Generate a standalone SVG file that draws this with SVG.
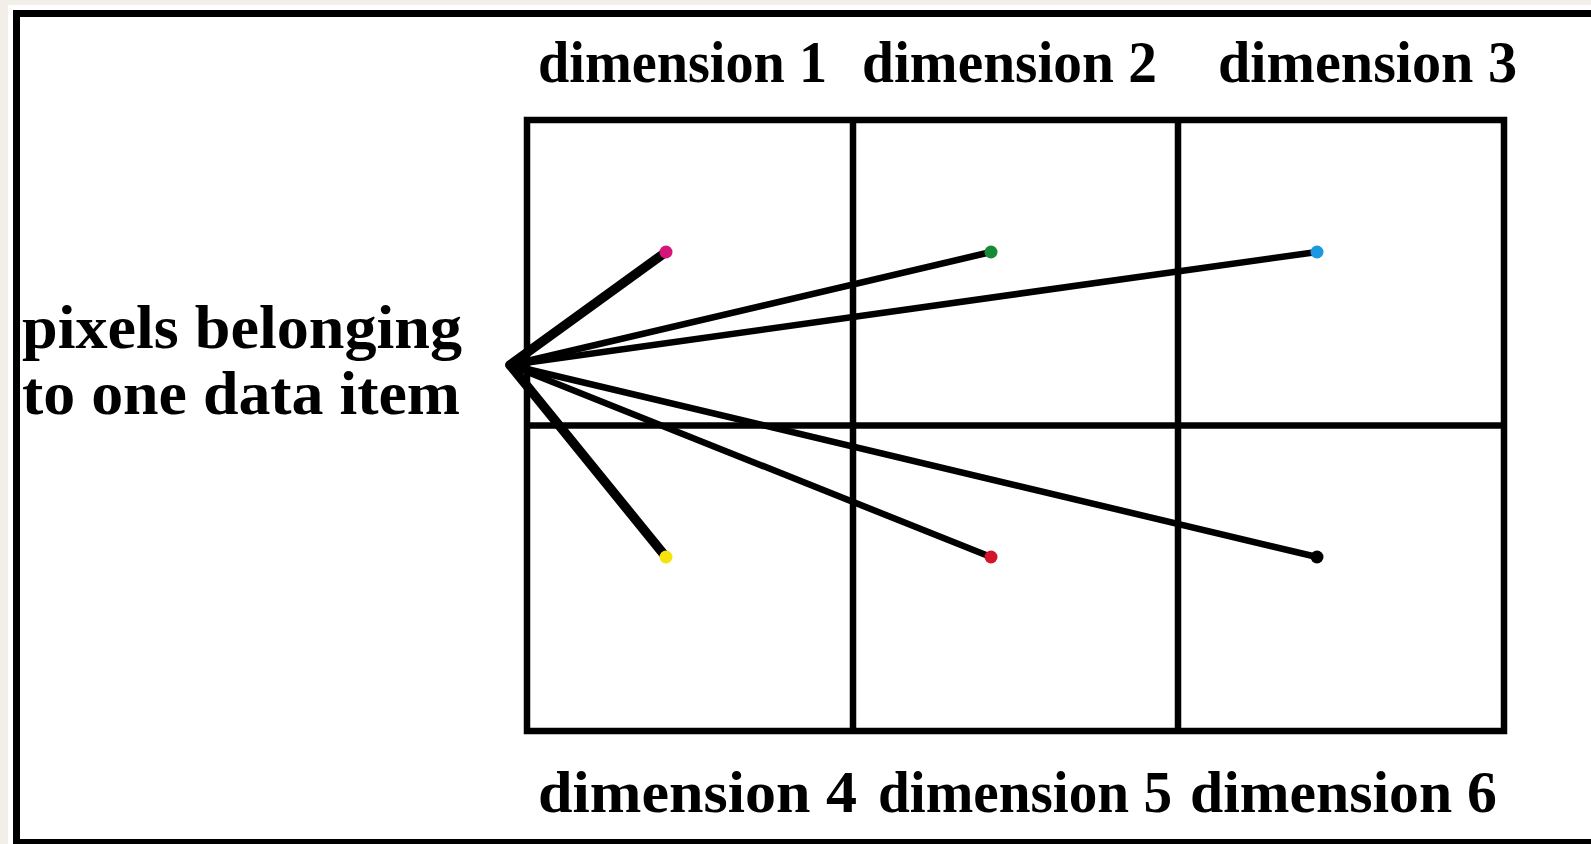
<svg xmlns="http://www.w3.org/2000/svg" width="1591" height="844" viewBox="0 0 1591 844">
<style>
.t{font-family:"Liberation Serif","Times New Roman",serif;font-weight:bold;fill:#000;}
.g{fill:none;stroke:#000;stroke-width:6.5;}
.c{stroke:#000;stroke-width:6.5;stroke-linecap:round;fill:none;}
.ct{stroke:#000;stroke-width:9.5;stroke-linecap:round;fill:none;}
</style>
<rect x="0" y="0" width="1591" height="844" fill="#f2efe8"/>
<rect x="8" y="5" width="1583" height="839" fill="#ffffff"/>
<rect x="16.5" y="13.5" width="1600" height="829" fill="#ffffff" stroke="#000" stroke-width="7"/>
<g id="grid">
<rect class="g" x="527" y="120" width="977" height="611"/>
<line class="g" x1="853" y1="120" x2="853" y2="731"/>
<line class="g" x1="1178" y1="120" x2="1178" y2="731"/>
<line class="g" x1="527" y1="425.5" x2="1504" y2="425.5"/>
</g>
<g id="connectors">
<line class="ct" x1="510" y1="365" x2="666" y2="252"/>
<line class="c" x1="510" y1="365" x2="991" y2="252"/>
<line class="c" x1="510" y1="365" x2="1317" y2="252"/>
<line class="ct" x1="510" y1="365" x2="666" y2="557"/>
<line class="c" x1="510" y1="365" x2="991" y2="557"/>
<line class="c" x1="510" y1="365" x2="1317" y2="557"/>
</g>
<g id="dots">
<circle cx="666" cy="252" r="6.5" fill="#d6157a"/>
<circle cx="991" cy="252" r="6.5" fill="#178a35"/>
<circle cx="1317" cy="252" r="6.5" fill="#1c98e0"/>
<circle cx="666" cy="557" r="6.5" fill="#f4e40a"/>
<circle cx="991" cy="557" r="6.5" fill="#d3142b"/>
<circle cx="1317" cy="557" r="6.5" fill="#000000"/>
</g>
<g id="label-item">
<text class="t" x="22" y="348" font-size="62" textLength="440" lengthAdjust="spacingAndGlyphs">pixels belonging</text>
<text class="t" x="22" y="414" font-size="62" textLength="438" lengthAdjust="spacingAndGlyphs">to one data item</text>
</g>
<g id="dim1"><text class="t" x="538" y="82" font-size="60" textLength="289" lengthAdjust="spacingAndGlyphs">dimension 1</text></g>
<g id="dim2"><text class="t" x="862" y="82" font-size="60" textLength="295" lengthAdjust="spacingAndGlyphs">dimension 2</text></g>
<g id="dim3"><text class="t" x="1218" y="82" font-size="60" textLength="299" lengthAdjust="spacingAndGlyphs">dimension 3</text></g>
<g id="dim4"><text class="t" x="538" y="812" font-size="60" textLength="319" lengthAdjust="spacingAndGlyphs">dimension 4</text></g>
<g id="dim5"><text class="t" x="878" y="812" font-size="60" textLength="294" lengthAdjust="spacingAndGlyphs">dimension 5</text></g>
<g id="dim6"><text class="t" x="1190" y="812" font-size="60" textLength="307" lengthAdjust="spacingAndGlyphs">dimension 6</text></g>
</svg>
